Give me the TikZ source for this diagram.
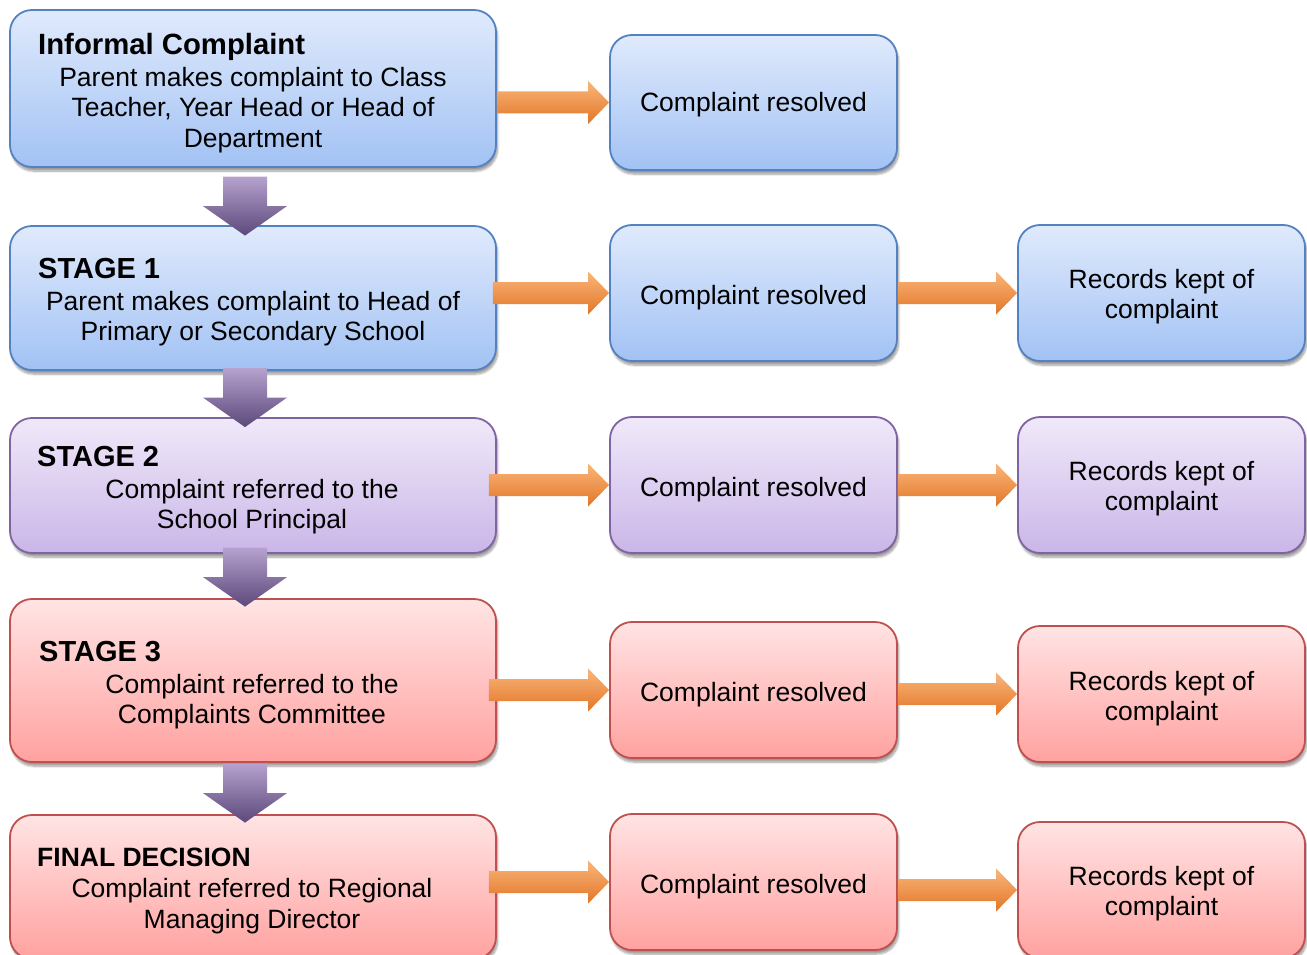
\documentclass[tikz,border=0pt]{standalone}
\usepackage{fontspec}
\setmainfont{Liberation Sans}
\usetikzlibrary{shadows.blur,calc}
\definecolor{bTop}{RGB}{224,234,252}
\definecolor{bBot}{RGB}{162,194,244}
\definecolor{bLine}{RGB}{84,130,192}
\definecolor{pTop}{RGB}{240,233,249}
\definecolor{pBot}{RGB}{202,182,232}
\definecolor{pLine}{RGB}{128,100,162}
\definecolor{rTop}{RGB}{255,228,228}
\definecolor{rBot}{RGB}{255,162,160}
\definecolor{rLine}{RGB}{192,80,77}
\definecolor{oTop}{RGB}{250,182,122}
\definecolor{oBot}{RGB}{226,118,40}
\definecolor{vTop}{RGB}{182,162,206}
\definecolor{vBot}{RGB}{92,72,122}
\newcommand{\orarrow}[2]{%
  \shade[top color=oTop, bottom color=oBot]
    ($#1+(0,-11)$) -- ($#2+(-21,-11)$) -- ($#2+(-21,-21.5)$) -- #2
    -- ($#2+(-21,21.5)$) -- ($#2+(-21,11)$) -- ($#1+(0,11)$) -- cycle;}
\newcommand{\dnarrow}[1]{%
  \shade[top color=vTop, bottom color=vBot]
    ($#1+(-22,-59)$) -- ($#1+(22,-59)$) -- ($#1+(22,-29.5)$) -- ($#1+(42,-29.5)$)
    -- #1 -- ($#1+(-42,-29.5)$) -- ($#1+(-22,-29.5)$) -- cycle;}
\begin{document}
\begin{tikzpicture}[x=1pt,y=-1pt,
  box/.style={rectangle, rounded corners=22pt, draw, line width=1.8pt, inner sep=0pt,
    blur shadow={shadow xshift=1.5pt, shadow yshift=-4pt, shadow blur steps=8, shadow opacity=40}},
  bluebox/.style={box, draw=bLine, top color=bTop, bottom color=bBot},
  purplebox/.style={box, draw=pLine, top color=pTop, bottom color=pBot},
  redbox/.style={box, draw=rLine, top color=rTop, bottom color=rBot},
  wide/.style={minimum width=486pt},
  narrow/.style={minimum width=287pt},
  txt/.style={font=\fontsize{26.5}{30}\selectfont, anchor=base, inner sep=0pt},
  ttl/.style={font=\fontsize{29}{32}\selectfont\bfseries, anchor=base west, inner sep=0pt}]
\useasboundingbox (0,0) rectangle (1307,955);

% boxes
\node[bluebox, wide, minimum height=157pt] (L1) at (253,88.5) {};
\node[bluebox, narrow, minimum height=135pt] (M1) at (753.5,102.5) {};
\node[bluebox, wide, minimum height=144pt] (L2) at (253,298) {};
\node[bluebox, narrow, minimum height=136pt] (M2) at (753.5,293) {};
\node[bluebox, narrow, minimum height=136pt] (R2) at (1161.5,293) {};
\node[purplebox, wide, minimum height=135pt] (L3) at (253,485.5) {};
\node[purplebox, narrow, minimum height=136pt] (M3) at (753.5,485) {};
\node[purplebox, narrow, minimum height=136pt] (R3) at (1161.5,485) {};
\node[redbox, wide, minimum height=163pt] (L4) at (253,680.5) {};
\node[redbox, narrow, minimum height=136pt] (M4) at (753.5,690) {};
\node[redbox, narrow, minimum height=136pt] (R4) at (1161.5,694) {};
\node[redbox, wide, minimum height=144pt] (L5) at (253,887) {};
\node[redbox, narrow, minimum height=136pt] (M5) at (753.5,882) {};
\node[redbox, narrow, minimum height=136pt] (R5) at (1161.5,890) {};

% texts
\node[ttl, font=\fontsize{29.3}{32}\selectfont\bfseries] (t1) at (38,55) {Informal Complaint};
\node[txt] (t1a) at (253,87) {Parent makes complaint to Class};
\node[txt] (t1b) at (253,117) {Teacher, Year Head or Head of};
\node[txt] (t1c) at (253,148) {Department};
\node[txt] (m1) at (753.5,112) {Complaint resolved};

\node[ttl] (t2) at (38,278) {STAGE 1};
\node[txt] (t2a) at (253,310) {Parent makes complaint to Head of};
\node[txt] (t2b) at (253,340) {Primary or Secondary School};
\node[txt] (m2) at (753.5,304) {Complaint resolved};
\node[txt] (r2a) at (1161.5,288) {Records kept of};
\node[txt] (r2b) at (1161.5,318) {complaint};

\node[ttl] (t3) at (37,466) {STAGE 2};
\node[txt] (t3a) at (252,498) {Complaint referred to the};
\node[txt] (t3b) at (252,528) {School Principal};
\node[txt] (m3) at (753.5,496) {Complaint resolved};
\node[txt] (r3a) at (1161.5,480) {Records kept of};
\node[txt] (r3b) at (1161.5,510) {complaint};

\node[ttl] (t4) at (39,661) {STAGE 3};
\node[txt] (t4a) at (252,693) {Complaint referred to the};
\node[txt] (t4b) at (252,723) {Complaints Committee};
\node[txt] (m4) at (753.5,701) {Complaint resolved};
\node[txt] (r4a) at (1161.5,690) {Records kept of};
\node[txt] (r4b) at (1161.5,720) {complaint};

\node[ttl, font=\fontsize{26.5}{30}\selectfont\bfseries] (t5) at (37,866) {FINAL DECISION};
\node[txt] (t5a) at (252,897) {Complaint referred to Regional};
\node[txt] (t5b) at (252,928) {Managing Director};
\node[txt] (m5) at (753.5,893) {Complaint resolved};
\node[txt] (r5a) at (1161.5,885) {Records kept of};
\node[txt] (r5b) at (1161.5,915) {complaint};

% orange arrows
\orarrow{($(L1.east |- M1.west)+(0,0)$)}{(M1.west)}
\orarrow{($(L2.east |- M2.west)+(-4,0)$)}{(M2.west)}
\orarrow{($(L3.east |- M3.west)+(-8,0)$)}{(M3.west)}
\orarrow{($(L4.east |- M4.west)+(-8,0)$)}{(M4.west)}
\orarrow{($(L5.east |- M5.west)+(-8,0)$)}{(M5.west)}
\orarrow{(M2.east |- R2.west)}{(R2.west)}
\orarrow{(M3.east |- R3.west)}{(R3.west)}
\orarrow{(M4.east |- R4.west)}{(R4.west)}
\orarrow{(M5.east |- R5.west)}{(R5.west)}

% purple arrows
\dnarrow{($(L2.north)+(-8,10.5)$)}
\dnarrow{($(L3.north)+(-8,10)$)}
\dnarrow{($(L4.north)+(-8,8.5)$)}
\dnarrow{($(L5.north)+(-8,8.5)$)}
\end{tikzpicture}
\end{document}
